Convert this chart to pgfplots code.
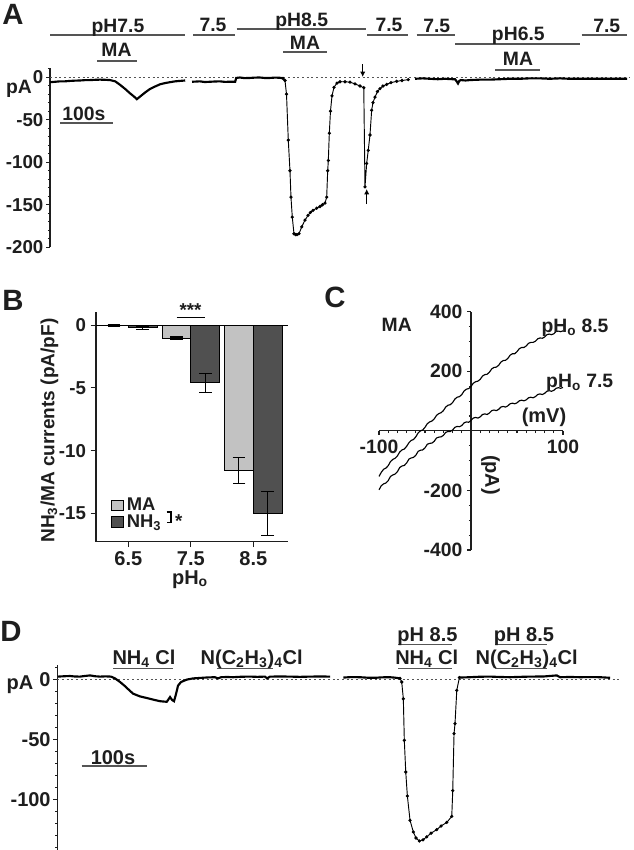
\documentclass[border=0pt]{standalone}
\usepackage{pgfplots}
\usepackage{pgfplotstable}
\pgfplotsset{compat=1.18}
\usepackage{fontspec}
\setmainfont{Liberation Sans}
\usetikzlibrary{arrows.meta}
\definecolor{txt}{HTML}{1E1E1E}
\definecolor{barln}{HTML}{555555}
\definecolor{lightbar}{HTML}{C2C2C2}
\definecolor{darkbar}{HTML}{505050}
\definecolor{dashc}{HTML}{555555}
\newcommand{\fs}[1]{\fontsize{#1}{#1}\selectfont\bfseries}
\newcommand{\sub}[1]{\textsubscript{#1}}

% ---------- Panel A trace (t in s, current in pA) ----------
\pgfplotstableread{
t pA
0 -6
10 -5.5
19 -5
28 -5
38 -4.5
47 -4.2
57 -4
66 -3.6
76 -3.5
86 -3.2
95 -3
105 -3.2
114 -3.5
124 -5
133 -9
143 -14
152 -19
160 -23
165 -26
171 -23
181 -18
190 -14
200 -11
209 -8.5
219 -7
228 -6
238 -5
247 -4.5
257 -4
}\Aone
\pgfplotstableread{
t pA
270 -5.5
285 -5
294 -5.8
304 -5.5
313 -5.2
323 -5
332 -5.6
342 -5.5
352 -5.5
354 -1
361 -0.5
370 -1.2
380 -1
390 -0.6
399 -0.5
409 -1.1
418 -1
428 -0.6
437 -0.8
443 -1.5
}\Atwo
\pgfplotstableread{
t pA
443 -1.5
446.7 -4
449.6 -20
453.0 -74
456.2 -110
458.1 -141
460.6 -164.5
463.8 -184
466.6 -185
469.5 -185
473.3 -184
478.5 -176
484.8 -168
490.5 -162.5
495 -159
500 -156.6
507 -154
513.3 -152
518 -150
522.8 -148
526 -141
527.9 -110
529.1 -98
531 -66
533.2 -40
536.1 -22
539.9 -12
545.6 -7
551.3 -5.5
560.8 -5.5
570.3 -6
579.8 -8
589.3 -10.5
596.5 -12.5
598.8 -129
602 -101.5
605 -86
608.3 -68
611.5 -39
614 -30
617.8 -23.5
622.5 -17
627.3 -13.6
633 -10.5
640 -8.6
648.2 -6.5
659 -5
669.2 -4
681.1 -3
}\Afast
\pgfplotstableread{
t pA
693.9 -2
708 -1.5
722.4 -2
737 -2.5
751 -2
765 -2.5
770 -2.5
773 -5
775.6 -7.5
778 -4.5
781.3 -3.5
790 -4
798.4 -3.5
817.4 -3
836 -3
855.5 -2.5
874 -2
893.5 -2
912 -1.5
931.5 -1.5
950 -2
969.5 -1.5
988 -2
1007.5 -2
1026 -2
1045.6 -2
1065 -2
1080 -2
1096.9 -2
}\Athree

% ---------- Panel B bars (pA/pF) ----------
\pgfplotstableread{
cat MA MAerr NH NHerr
0 -0.03 0.05 -0.2 0.12
1 -1.05 0.1 -4.6 0.77
2 -11.6 1.05 -15.0 1.75
}\Bdata

% ---------- Panel C I-V curves (mV, pA) ----------
\pgfplotstableread{
mV pA
-100 -153
-97.5 -139
-95 -129
-92.5 -125
-90 -117
-87.5 -103
-85 -96
-82.5 -92
-80 -84
-77.5 -71
-75 -64
-72.5 -61
-70 -52
-67.5 -40
-65 -32
-62.5 -29
-60 -20
-57.5 -7
-55 0
-52.5 3
-50 12
-47.5 24
-45 30
-42.5 33
-40 40
-37.5 52
-35 58
-32.5 61
-30 68
-27.5 80
-25 86
-22.5 88
-20 95
-17.5 107
-15 113
-12.5 115
-10 122
-7.5 134
-5 140
-2.5 142
0 149
2.5 160
5 165
7.5 167
10 173
12.5 184
15 189
17.5 190
20 197
22.5 208
25 213
27.5 214
30 220
32.5 231
35 236
37.5 237
40 243
42.5 254
45 259
47.5 259
50 266
52.5 276
55 280
57.5 280
60 285
62.5 294
65 297
67.5 297
70 301
72.5 309
75 312
77.5 311
80 315
82.5 323
85 325
87.5 323
90 326
92.5 334
95 335
97.5 333
100 336
}\Ceight
\pgfplotstableread{
mV pA
-100 -198
-97.5 -184
-95 -178
-92.5 -175
-90 -167
-87.5 -153
-85 -148
-82.5 -145
-80 -137
-77.5 -123
-75 -118
-72.5 -116
-70 -108
-67.5 -95
-65 -91
-62.5 -89
-60 -82
-57.5 -69
-55 -65
-52.5 -64
-50 -57
-47.5 -45
-45 -42
-42.5 -41
-40 -35
-37.5 -24
-35 -21
-32.5 -20
-30 -15
-27.5 -5
-25 -2
-22.5 -2
-20 3
-17.5 12
-15 15
-12.5 14
-10 18
-7.5 27
-5 30
-2.5 29
0 35
2.5 43
5 45
7.5 43
10 47
12.5 55
15 57
17.5 55
20 60
22.5 68
25 70
27.5 68
30 72
32.5 80
35 82
37.5 80
40 84
42.5 91
45 93
47.5 91
50 94
52.5 101
55 103
57.5 101
60 104
62.5 111
65 113
67.5 111
70 115
72.5 122
75 124
77.5 122
80 126
82.5 133
85 135
87.5 133
90 136
92.5 143
95 145
97.5 143
100 146
}\Cseven

% ---------- Panel D trace (t in s, pA) ----------
\pgfplotstableread{
t pA
1.1 2.5
10 2.8
19.5 3
27 2.6
34.9 2.5
42 3
50.3 3.5
58 2.8
65.7 2.5
74 2.7
82.6 2.5
88.8 1
96.5 -2
104.2 -5.5
110 -8.5
116.5 -11.7
127.2 -14
135 -15
142.6 -16
150 -17
158 -18
168.3 -18.5
170.3 -17
173.4 -14.5
176.5 -17
179.5 -18
182.6 -12
185.7 -5
190.3 -2
199.1 0
208.8 1
219.5 1.4
231 1.8
242.6 2
247.2 1
251.8 2
261 2.2
270.3 2
283 2.4
296.5 2.5
308 2.3
319.5 2.5
322.6 1
327.2 2.5
343 2.6
358 2.5
373 2.3
388.8 2.5
404 2.6
419.5 2.5
}\Done
\pgfplotstableread{
t pA
440 1.7
452 2.1
465.7 2
477 1.6
488.8 1.5
500 1.9
511.8 2
520 1.6
527.2 1.0
}\Dtwo
\pgfplotstableread{
t pA
527.2 1.0
529.8 -2
532.3 -16
533.8 -50.6
536 -77
538.5 -97
542.6 -117.3
547.7 -127
551.8 -132
556.9 -134.5
562.6 -133.5
568.3 -131
574.9 -128
583.7 -125
590.3 -122
599.1 -119
606.8 -114
608.3 -92.5
610.3 -45
611.8 -36.7
614.5 -9
618.5 1.7
}\Dfast
\pgfplotstableread{
t pA
618.5 1.7
634.9 2
650 2.4
665.7 2.5
681 2.2
696.5 2
712 2.3
727.2 2.5
748 2.6
768.3 3.5
773.4 2
789 2.2
804.2 2
820 2.1
835 2
850.3 1.5
}\Dthree

\pgfplotsset{
  paneltick/.style={tick align=outside, major tick length=3pt, minor tick length=1.6pt,
    tick style={line width=0.8pt, txt}, axis line style={line width=0.9pt, txt},
    /pgf/number format/assume math mode=true, clip=false},
}

\begin{document}
\begin{tikzpicture}
\path[use as bounding box] (0pt,0pt) rectangle (474.75pt,-637.5pt);
\fill[white] (0pt,0pt) rectangle (474.75pt,-637.5pt);

% ================= Panel A =================
\begin{axis}[at={(37.5pt,-185.5pt)}, anchor=south west, scale only axis,
  width=435pt, height=134.2pt, xmin=0, xmax=1102.6, ymin=-200, ymax=10.2,
  axis x line=none, axis y line*=left, xtick=\empty,
  ytick={-200,-150,-100,-50,0}, minor ytick={-190,-180,...,10},
  paneltick, yticklabel style={font=\fs{14}, text=txt, xshift=1.5pt}]
\draw[dashc, line width=0.6pt, dash pattern=on 1.5pt off 2pt] (axis cs:0,0) -- (axis cs:1102.6,0);
\addplot[black, line width=1.6pt, no marks] table {\Aone};
\addplot[black, line width=1.6pt, no marks] table {\Atwo};
\addplot[black, line width=0.7pt, mark=*, mark size=0.85pt] table {\Afast};
\addplot[black, line width=1.6pt, no marks] table {\Athree};
\end{axis}

% ================= Panel B =================
\begin{axis}[at={(72pt,-406.3pt)}, anchor=south west, scale only axis,
  width=144pt, height=172.5pt, xmin=-0.517, xmax=2.555, ymin=-17.25, ymax=1.06,
  axis x line*=bottom, axis y line*=left,
  xtick={0,1,2}, xticklabels={6.5,7.5,8.5}, ytick={-15,-10,-5,0},
  paneltick, major tick length=4pt,
  yticklabel style={font=\fs{14}, text=txt},
  xticklabel style={font=\fs{15}, text=txt},
  ybar, bar width=0.46]
\draw[black, line width=0.7pt] (axis cs:-0.517,0) -- (axis cs:2.555,0);
\addplot[fill=lightbar, draw=black, line width=0.6pt, bar shift=-0.23,
  error bars/.cd, y dir=both, y explicit,
  error bar style={line width=0.8pt, black},
  error mark options={rotate=90, mark size=4.8pt, line width=0.8pt, black}]
  table[x=cat, y=MA, y error=MAerr] {\Bdata};
\addplot[fill=darkbar, draw=black, line width=0.6pt, bar shift=0.23,
  error bars/.cd, y dir=both, y explicit,
  error bar style={line width=0.8pt, black},
  error mark options={rotate=90, mark size=4.8pt, line width=0.8pt, black}]
  table[x=cat, y=NH, y error=NHerr] {\Bdata};
\end{axis}

% ================= Panel C =================
\begin{axis}[at={(284.25pt,-412.5pt)}, anchor=south west, scale only axis,
  width=138pt, height=178.7pt, xmin=-100, xmax=100, ymin=-400, ymax=400,
  axis lines=middle, paneltick, axis line style={-, line width=0.9pt, txt},
  xtick={-100,100}, ytick={-400,-200,200,400},
  minor xtick={-90,-80,...,-10,10,20,...,90},
  minor ytick={-350,-300,-250,-150,-100,-50,50,100,150,250,300,350},
  ticklabel style={font=\fs{14.5}, text=txt}]
\addplot[black, line width=0.85pt, no marks] table {\Ceight};
\addplot[black, line width=0.85pt, no marks] table {\Cseven};
\end{axis}

% ================= Panel D =================
\begin{axis}[at={(43pt,-637.5pt)}, anchor=south west, scale only axis,
  width=429.5pt, height=138.6pt, xmin=0, xmax=881, ymin=-142, ymax=12,
  axis x line=none, axis y line*=left, xtick=\empty,
  ytick={-100,-50,0}, minor ytick={-140,-130,...,10},
  paneltick, yticklabel style={font=\fs{15}, text=txt, xshift=1.5pt}]
\draw[dashc, line width=0.6pt, dash pattern=on 1.5pt off 2pt] (axis cs:0,0) -- (axis cs:866,0);
\addplot[black, line width=1.6pt, no marks] table {\Done};
\addplot[black, line width=1.6pt, no marks] table {\Dtwo};
\addplot[black, line width=0.7pt, mark=*, mark size=0.85pt] table {\Dfast};
\addplot[black, line width=1.6pt, no marks] table {\Dthree};
\end{axis}

% ================= Annotations (pixel coordinates) =================
\begin{scope}[x=0.75pt, y=-0.75pt, text=txt]
% panel letters
\node[font=\fs{22}] at (13,14) {A};
\node[font=\fs{22}] at (13,300) {B};
\node[font=\fs{22}] at (335,297) {C};
\node[font=\fs{22}] at (11,631) {D};

% ---- Panel A solution bars ----
\begin{scope}[barln, line width=1.4pt]
\draw (50,35) -- (185,35);
\draw (97,60.7) -- (137,60.7);
\draw (193,35) -- (235,35);
\draw (236.7,29) -- (366,29);
\draw (283.3,51.7) -- (326.7,51.7);
\draw (367,35) -- (408,35);
\draw (416.7,35) -- (455,35);
\draw (455,44.3) -- (580,44.3);
\draw (495,70) -- (540,70);
\draw (581.7,35) -- (626.7,35);
\draw (60,122.7) -- (113.3,122.7);
\end{scope}
\begin{scope}[every node/.style={font=\fs{14.5}, anchor=base, inner sep=0pt}]
\node at (118,32.3) {pH7.5};
\node at (116.5,56.5) {MA};
\node at (213,31.7) {7.5};
\node at (301.7,26.7) {pH8.5};
\node at (305,49.3) {MA};
\node at (389,31.7) {7.5};
\node at (436.7,32.7) {7.5};
\node at (518.3,40.7) {pH6.5};
\node at (518,65) {MA};
\node at (606.7,32.7) {7.5};
\node at (84,120) {100s};
\node at (19,93.5) {pA};
\end{scope}
\draw[black, line width=1.1pt, -{Latex[length=4pt,width=4pt]}] (362.7,64) -- (362.7,77);
\draw[black, line width=1.1pt, -{Latex[length=4pt,width=4pt]}] (366.7,204) -- (366.7,189);

% ---- Panel B extras ----
\draw[black, line width=0.8pt] (176.7,317.3) -- (205,317.3);
\node[font=\fs{14}, anchor=base, inner sep=0pt] at (190.5,316) {***};
\node[font=\fs{15}, anchor=base, inner sep=0pt] at (190,584) {pH\sub{o}};
\node[font=\fs{14.3}, rotate=90, anchor=base, inner sep=0pt] at (54.3,430.5) {NH\sub{3}/MA currents (pA/pF)};
\filldraw[fill=lightbar, draw=black, line width=0.5pt] (111.7,500) rectangle (123.3,510.7);
\filldraw[fill=darkbar, draw=black, line width=0.5pt] (111.7,516.7) rectangle (123.3,527.3);
\node[font=\fs{13.8}, anchor=base west, inner sep=0pt] at (126.5,510.7) {MA};
\node[font=\fs{13.8}, anchor=base west, inner sep=0pt] at (126.5,527.3) {NH\sub{3}};
\draw[black, line width=0.8pt] (166.5,512) -- (171,512) -- (171,522.7) -- (166.5,522.7);
\node[font=\fs{14}, anchor=base, inner sep=0pt] at (178.8,527) {*};

% ---- Panel C labels ----
\node[font=\fs{14.5}, anchor=base, inner sep=0pt] at (396.7,331.7) {MA};
\node[font=\fs{14.5}, anchor=base, inner sep=0pt] at (575,332.7) {pH\sub{o} 8.5};
\node[font=\fs{14.5}, anchor=base, inner sep=0pt] at (579.7,387.7) {pH\sub{o} 7.5};
\node[font=\fs{15}] at (544,417) {(mV)};
\node[font=\fs{15}, rotate=-90] at (490.5,475) {(pA)};

% ---- Panel D labels ----
\begin{scope}[barln, line width=1.4pt]
\draw (113.3,668.5) -- (173.3,668.5);
\draw (216.7,668.5) -- (273.3,668.5);
\draw (398.3,644.5) -- (451.7,644.5);
\draw (398.3,668.5) -- (451.7,668.5);
\draw (495,644.5) -- (546.7,644.5);
\draw (495,668.5) -- (546.7,668.5);
\draw (81.7,766) -- (146.7,766);
\end{scope}
\begin{scope}[every node/.style={font=\fs{15}, anchor=base, inner sep=0pt}]
\node at (144,664.5) {NH\sub{4} Cl};
\node at (251.7,664.5) {N(C\sub{2}H\sub{3})\sub{4}Cl};
\node at (427.5,641.7) {pH 8.5};
\node at (426.7,664.5) {NH\sub{4} Cl};
\node at (524,641.7) {pH 8.5};
\node at (526.7,664.5) {N(C\sub{2}H\sub{3})\sub{4}Cl};
\node at (113,764) {100s};
\node at (20,689) {pA};
\end{scope}
\end{scope}
\end{tikzpicture}
\end{document}
